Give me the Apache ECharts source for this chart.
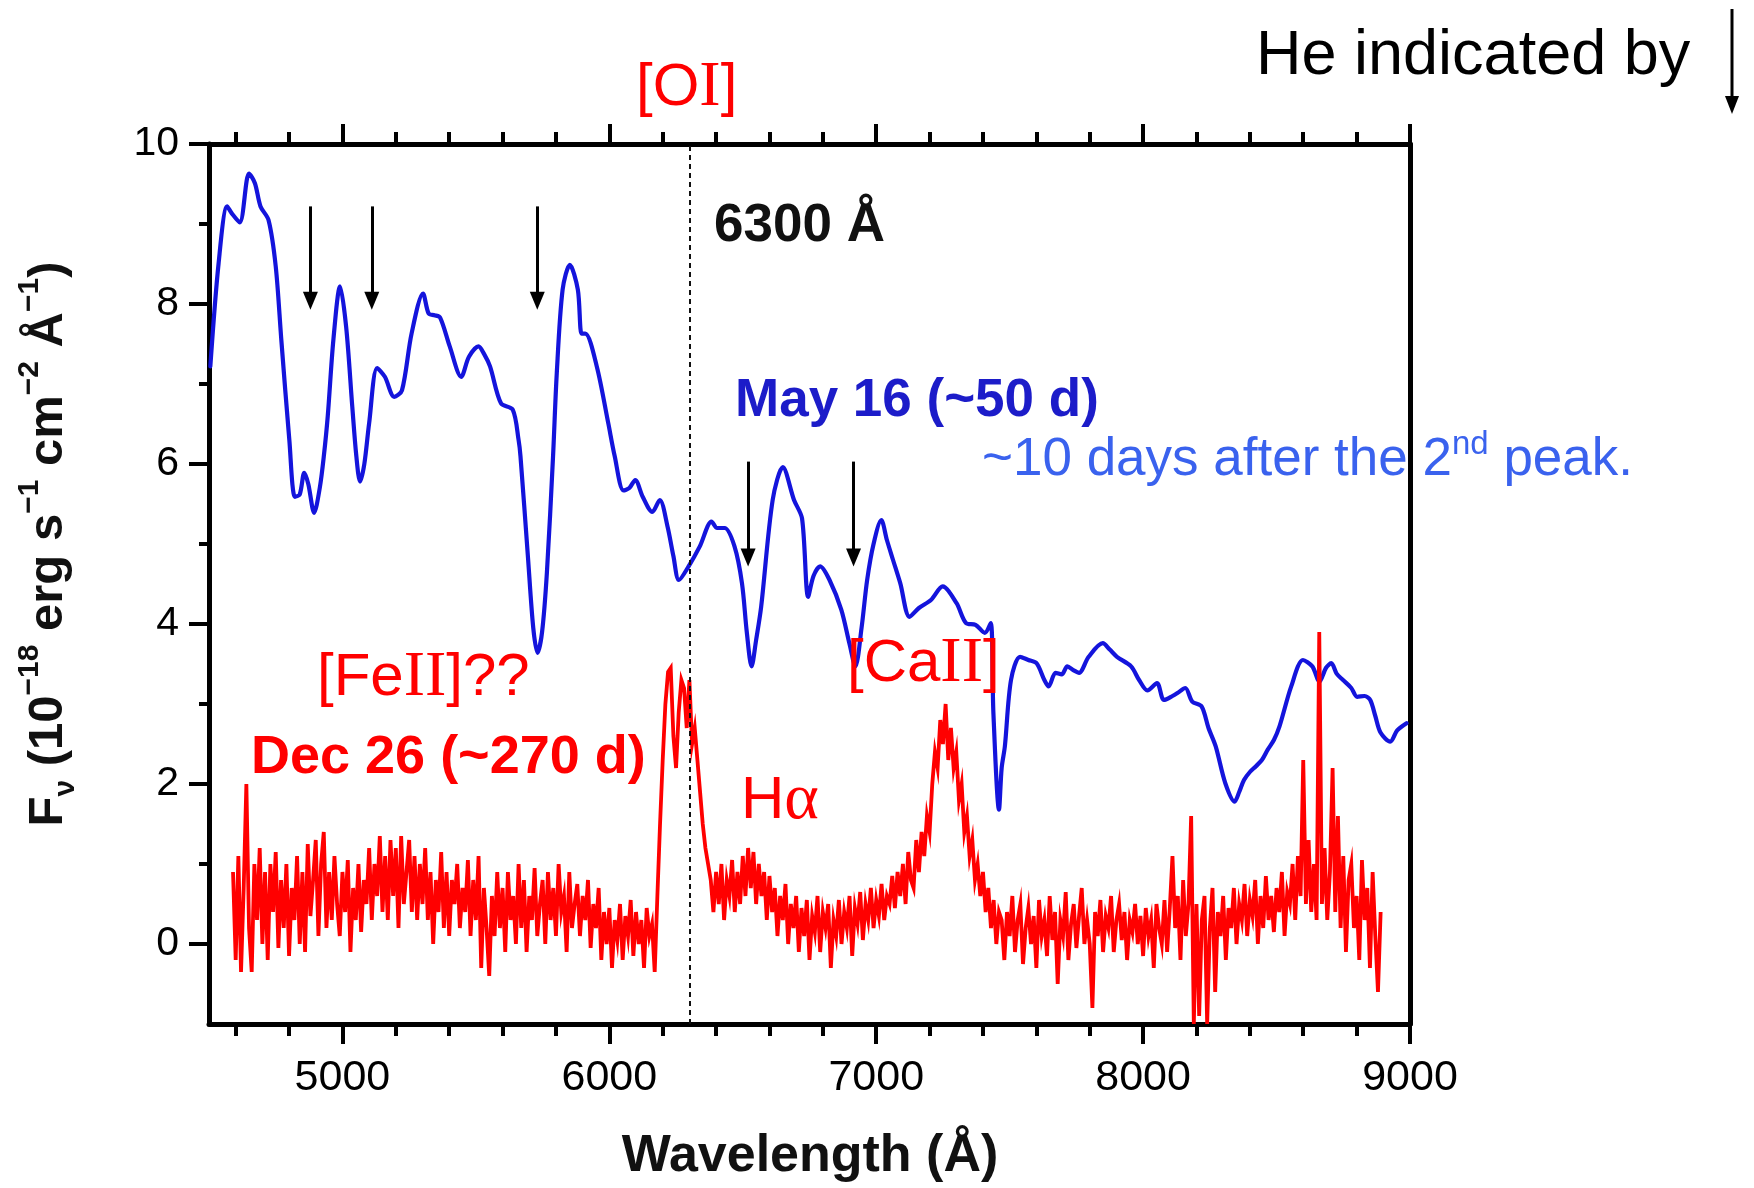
<!DOCTYPE html>
<html>
<head>
<meta charset="utf-8">
<script src="https://cdn.jsdelivr.net/npm/echarts@6/dist/echarts.min.js"></script>
<style>
  html, body { margin: 0; padding: 0; background: #ffffff; }
  #chart { width: 1754px; height: 1188px; }
</style>
</head>
<body>
<div id="chart"></div>
<script>
// May 16 (~50 d) spectrum: wavelength (Å) and flux (1e-18 erg s^-1 cm^-2 Å^-1)
const mayWave = [4505,4536,4568,4586,4615,4650,4672,4693,4723,4750,4771,4801,4822,4840,4857,4872,4894,4915,4930,4945,4966,4991,5014,5037,5052,5066,5082,5100,5130,5159,5194,5223,5259,5302,5323,5345,5366,5402,5445,5474,5510,5530,5553,5594,5638,5660,5667,5695,5715,5731,5748,5766,5789,5803,5825,5852,5882,5896,5910,5953,5996,6020,6053,6075,6097,6125,6161,6189,6218,6240,6261,6297,6339,6383,6404,6432,6469,6497,6515,6533,6550,6569,6612,6650,6692,6722,6745,6765,6790,6825,6869,6900,6922,6945,6966,6990,7019,7040,7063,7090,7125,7160,7205,7249,7301,7337,7372,7407,7429,7439,7460,7470,7482,7505,7539,7570,7601,7630,7646,7672,7695,7716,7740,7760,7796,7849,7875,7902,7955,7985,8016,8052,8078,8110,8130,8158,8184,8219,8245,8272,8308,8343,8360,8378,8400,8422,8445,8467,8490,8511,8555,8599,8634,8661,8685,8705,8725,8749,8780,8802,8830,8851,8870,8890,8926,8952,8987];
const mayFlux = [7.22,8.51,9.22,9.13,9.02,9.63,9.51,9.22,9.05,8.47,7.55,6.30,5.59,5.62,5.89,5.75,5.39,5.70,6.09,6.60,7.55,8.22,7.71,6.71,6.10,5.78,6.00,6.51,7.20,7.09,6.84,6.92,7.63,8.13,7.88,7.86,7.83,7.47,7.09,7.34,7.47,7.38,7.22,6.76,6.68,6.30,6.10,4.84,3.95,3.64,3.90,4.64,6.09,7.13,8.18,8.49,8.18,7.63,7.63,7.22,6.51,6.10,5.67,5.70,5.80,5.59,5.40,5.55,5.22,4.85,4.55,4.72,4.97,5.28,5.20,5.20,4.97,4.51,3.90,3.47,3.80,4.22,5.55,5.96,5.55,5.32,4.34,4.60,4.72,4.55,4.18,3.75,3.47,3.95,4.55,5.00,5.30,5.05,4.80,4.51,4.09,4.20,4.30,4.47,4.26,4.01,3.99,3.89,4.01,2.89,1.68,2.20,2.47,3.30,3.59,3.55,3.51,3.30,3.22,3.39,3.37,3.47,3.42,3.39,3.59,3.76,3.68,3.59,3.47,3.30,3.17,3.26,3.05,3.10,3.14,3.20,3.03,2.97,2.70,2.47,2.01,1.78,1.90,2.05,2.15,2.22,2.30,2.43,2.55,2.72,3.22,3.55,3.47,3.28,3.45,3.51,3.38,3.30,3.20,3.09,3.10,3.05,2.85,2.64,2.53,2.67,2.76];

// Dec 26 (~270 d) spectrum, sampled every 10 Å from 4590 Å
const decStart = 4590;
const decStep = 10;
const decFlux = [
  0.9, -0.2, 1.1, -0.35, 0.7, 2.0, 0.2, -0.35, 1.0, 0.3,
  1.2, 0.0, 0.9, -0.2, 1.0, 0.4, 1.15, -0.05, 0.8, 0.2,
  1.0, -0.15, 0.7, 0.3, 1.1, 0.0, 0.9, -0.1, 1.25, 0.35,
  0.8, 1.3, 0.1, 1.0, 1.4, 0.2, 0.9, 0.3, 1.1, 0.5,
  0.1, 0.9, 0.4, 1.05, -0.1, 0.7, 0.3, 1.0, 0.15, 0.8,
  0.5, 1.2, 0.3, 1.0, 0.6, 1.35, 0.4, 1.1, 0.3, 1.3,
  0.6, 1.2, 0.2, 1.35, 0.5, 0.9, 1.3, 0.4, 1.1, 0.3,
  1.0, 0.5, 1.2, 0.3, 0.9, 0.0, 0.8, 0.4, 1.15, 0.2,
  0.9, 0.1, 0.8, 0.5, 1.0, 0.2, 0.7, 0.4, 1.05, 0.1,
  0.8, 0.3, 1.1, -0.3, 0.7, 0.2, -0.4, 0.6, 0.1, 0.9,
  0.2, 0.7, -0.1, 0.9, 0.3, 0.6, 0.0, 1.0, 0.2, 0.8,
  -0.1, 0.6, 0.3, 0.95, 0.1, 0.5, 0.8, 0.0, 0.9, 0.3,
  0.7, 0.1, 1.0, 0.4, 0.6, -0.1, 0.9, 0.2, 0.5, 0.75,
  0.1, 0.6, 0.3, 0.8, -0.05, 0.5, 0.2, 0.7, -0.2, 0.4,
  0.0, 0.45, -0.3, 0.3, 0.05, 0.5, -0.2, 0.35, 0.1, 0.55,
  -0.15, 0.4, 0.0, 0.3, -0.3, 0.45, 0.1, 0.25, -0.35, 0.6,
  1.5, 2.3, 3.0, 3.4, 3.45, 2.6, 2.2, 2.9, 3.3, 3.2,
  2.7, 3.3, 2.5, 2.7, 2.3, 1.9, 1.5, 1.2, 1.0, 0.8,
  0.4, 0.9, 0.5, 1.0, 0.3, 0.8, 0.6, 1.05, 0.4, 0.9,
  0.5, 1.1, 0.6, 1.2, 0.7, 1.15, 0.5, 1.0, 0.6, 0.9,
  0.3, 0.85, 0.4, 0.7, 0.1, 0.6, 0.3, 0.75, 0.0, 0.5,
  0.2, 0.6, -0.1, 0.45, 0.1, 0.55, -0.2, 0.35, 0.15, 0.6,
  -0.1, 0.4, 0.2, 0.5, -0.3, 0.3, 0.1, 0.55, 0.0, 0.4,
  0.2, 0.6, -0.15, 0.45, 0.25, 0.65, 0.05, 0.5, 0.3, 0.7,
  0.2, 0.55, 0.35, 0.75, 0.3, 0.6, 0.5, 0.85, 0.45, 0.9,
  0.6, 1.0, 0.5, 1.15, 0.8, 0.7, 1.3, 0.9, 1.4, 1.1,
  1.6, 1.4, 2.0, 2.4, 2.2, 2.8, 2.5, 3.0, 2.3, 2.7,
  2.2, 2.4, 1.8, 2.0, 1.4, 1.6, 1.1, 1.3, 0.8, 1.0,
  0.6, 0.9, 0.4, 0.7, 0.2, 0.55, 0.0, 0.4, 0.3, -0.2,
  0.4, 0.1, 0.6, -0.1, 0.3, 0.5, -0.25, 0.2, 0.45, 0.0,
  0.35, -0.3, 0.55, 0.1, 0.3, -0.15, 0.6, 0.05, 0.4, -0.5,
  0.3, 0.1, 0.65, -0.2, 0.25, 0.5, -0.05, 0.35, 0.7, 0.0,
  0.3, 0.0, -0.8, 0.4, 0.1, 0.55, -0.1, 0.35, 0.2, 0.6,
  -0.1, 0.3, 0.5, 0.05, 0.4, -0.2, 0.3, 0.15, 0.5, 0.0,
  0.35, -0.15, 0.45, 0.1, 0.3, -0.3, 0.5, 0.2, 0.0, 0.55,
  -0.1, 0.45, 1.1, 0.2, 0.6, -0.2, 0.8, 0.1, 0.5, 1.6,
  -1.0, 0.5, -0.9, 0.3, 0.6, -1.0, 0.2, 0.7, -0.6, 0.4,
  0.1, 0.6, -0.2, 0.45, 0.2, 0.7, 0.0, 0.5, 0.3, 0.75,
  0.1, 0.55, 0.35, 0.8, 0.0, 0.6, 0.2, 0.85, 0.3, 0.6,
  0.15, 0.7, 0.4, 0.9, 0.1, 0.65, 0.5, 1.0, 0.3, 1.1,
  0.6, 2.3, 0.5, 1.3, 0.4, 1.0, 0.3, 3.9, 0.5, 1.2,
  0.3, 0.9, 2.2, 0.4, 1.6, 0.2, 1.1, -0.1, 0.8, 1.0,
  0.2, 0.6, -0.2, 1.05, 0.3, 0.7, -0.3, 0.9, 0.1, -0.6,
  0.4
];

// He absorption markers: wavelength, arrow start and arrow end (flux units)
const heWave = [4880, 5110, 5730, 6520, 6915];
const heFrom = [9.22, 9.22, 9.22, 6.03, 6.03];
const heTo   = [8.04, 8.04, 8.04, 4.83, 4.83];

// [OI] 6300 Å reference line
const oiLine = 6300;

// Axis ticks
const xMajor = [5000, 6000, 7000, 8000, 9000];
const xMinor = [4600, 4800, 5200, 5400, 5600, 5800, 6200, 6400, 6600, 6800, 7200, 7400, 7600, 7800, 8200, 8400, 8600, 8800];
const yMajor = [0, 2, 4, 6, 8, 10];
const yMinor = [1, 3, 5, 7, 9];

const mayData = mayWave.map((w, i) => [w, mayFlux[i]]);
const decData = decFlux.map((f, i) => [decStart + i * decStep, f]);

const sans = '"Liberation Sans", Arial, sans-serif';
const serif = '"Liberation Serif", "Times New Roman", serif';
const RED = '#ff0000';

const heMarks = heWave.map((w, i) => [
  { coord: [w, heFrom[i]], symbol: 'none' },
  { coord: [w, heTo[i]], symbol: 'triangle', symbolSize: [15, 18] }
]);

const chart = echarts.init(document.getElementById('chart'), null, { renderer: 'canvas' });

const tickStyle = { color: '#000', width: 4 };
const plain = v => String(v);
const baseX = { type: 'value', min: 4500, max: 9000, gridIndex: 0, splitLine: { show: false } };
const baseY = { type: 'value', min: -1, max: 10, gridIndex: 0, splitLine: { show: false } };

chart.setOption({
  animation: false,
  backgroundColor: '#ffffff',
  grid: { left: 209, right: 344, top: 144, bottom: 164, containLabel: false },
  xAxis: [
    Object.assign({}, baseX, {
      position: 'bottom',
      axisLine: { show: true, onZero: false, lineStyle: { color: '#000', width: 5 } },
      axisTick: { show: true, inside: false, length: 20, customValues: xMajor, lineStyle: tickStyle },
      axisLabel: { show: true, customValues: xMajor, formatter: plain, margin: 33, color: '#000', fontSize: 43, fontFamily: sans }
    }),
    Object.assign({}, baseX, {
      position: 'bottom',
      axisLine: { show: false, onZero: false },
      axisTick: { show: true, inside: false, length: 12, customValues: xMinor, lineStyle: tickStyle },
      axisLabel: { show: false }
    }),
    Object.assign({}, baseX, {
      position: 'top',
      axisLine: { show: true, onZero: false, lineStyle: { color: '#000', width: 5 } },
      axisTick: { show: true, inside: false, length: 20, customValues: xMajor, lineStyle: tickStyle },
      axisLabel: { show: false }
    }),
    Object.assign({}, baseX, {
      position: 'top',
      axisLine: { show: false, onZero: false },
      axisTick: { show: true, inside: false, length: 12, customValues: xMinor, lineStyle: tickStyle },
      axisLabel: { show: false }
    })
  ],
  yAxis: [
    Object.assign({}, baseY, {
      position: 'left',
      axisLine: { show: true, onZero: false, lineStyle: { color: '#000', width: 5 } },
      axisTick: { show: true, inside: false, length: 20, customValues: yMajor, lineStyle: tickStyle },
      axisLabel: { show: true, customValues: yMajor, formatter: plain, margin: 30, color: '#000', fontSize: 41, fontFamily: sans }
    }),
    Object.assign({}, baseY, {
      position: 'left',
      axisLine: { show: false, onZero: false },
      axisTick: { show: true, inside: false, length: 10, customValues: yMinor, lineStyle: tickStyle },
      axisLabel: { show: false }
    }),
    Object.assign({}, baseY, {
      position: 'right',
      axisLine: { show: true, onZero: false, lineStyle: { color: '#000', width: 5 } },
      axisTick: { show: false },
      axisLabel: { show: false }
    })
  ],
  series: [
    {
      name: 'May 16 (~50 d)',
      type: 'line',
      xAxisIndex: 0,
      yAxisIndex: 0,
      data: mayData,
      showSymbol: false,
      symbol: 'none',
      smooth: 0.3,
      lineStyle: { color: '#1414dc', width: 4.2, join: 'round', cap: 'round' },
      silent: true,
      z: 2,
      markLine: {
        silent: true,
        symbol: ['none', 'none'],
        label: { show: false },
        emphasis: { disabled: true },
        data: [
          { xAxis: oiLine, lineStyle: { color: '#111', width: 2, type: [5, 4] } }
        ].concat(heMarks),
        lineStyle: { color: '#000', width: 3, type: 'solid' }
      }
    },
    {
      name: 'Dec 26 (~270 d)',
      type: 'line',
      xAxisIndex: 0,
      yAxisIndex: 0,
      data: decData,
      showSymbol: false,
      symbol: 'none',
      smooth: false,
      lineStyle: { color: RED, width: 3.8, join: 'miter' },
      silent: true,
      z: 3
    }
  ],
  graphic: [
    {
      type: 'text', x: 1256, y: 57, z: 10,
      style: { text: 'He indicated by', fill: '#000', fontSize: 63, fontFamily: sans, align: 'left', verticalAlign: 'middle' }
    },
    {
      type: 'line', z: 10,
      shape: { x1: 1732, y1: 9, x2: 1732, y2: 100 },
      style: { stroke: '#000', lineWidth: 3 }
    },
    {
      type: 'polygon', z: 10,
      shape: { points: [[1725, 96], [1739, 96], [1732, 114]] },
      style: { fill: '#000' }
    },
    {
      type: 'text', x: 636, y: 88, z: 10,
      style: {
        text: '[O{s|I}]', fill: RED, fontSize: 60, fontFamily: sans, align: 'left', verticalAlign: 'middle',
        rich: { s: { fill: RED, fontSize: 64, fontFamily: serif } }
      }
    },
    {
      type: 'text', x: 714, y: 226, z: 10,
      style: { text: '6300 Å', fill: '#111', fontSize: 53, fontWeight: 'bold', fontFamily: sans, align: 'left', verticalAlign: 'middle' }
    },
    {
      type: 'text', x: 735, y: 401, z: 10,
      style: { text: 'May 16 (~50 d)', fill: '#1c1cc9', fontSize: 53, fontWeight: 'bold', fontFamily: sans, align: 'left', verticalAlign: 'middle' }
    },
    {
      type: 'text', x: 982, y: 460, z: 10,
      style: {
        text: '~10 days after the 2{sup|nd} peak.', fill: '#3a62ee', fontSize: 53, fontFamily: sans,
        align: 'left', verticalAlign: 'middle', lineHeight: 64,
        rich: { sup: { fill: '#3a62ee', fontSize: 33, fontFamily: sans, verticalAlign: 'top' } }
      }
    },
    {
      type: 'text', x: 847, y: 664, z: 10,
      style: {
        text: '[Ca{s|II}]', fill: RED, fontSize: 60, fontFamily: sans, align: 'left', verticalAlign: 'middle',
        rich: { s: { fill: RED, fontSize: 64, fontFamily: serif } }
      }
    },
    {
      type: 'text', x: 317, y: 678, z: 10,
      style: {
        text: '[Fe{s|II}]??', fill: RED, fontSize: 60, fontFamily: sans, align: 'left', verticalAlign: 'middle',
        rich: { s: { fill: RED, fontSize: 64, fontFamily: serif } }
      }
    },
    {
      type: 'text', x: 251, y: 758, z: 10,
      style: { text: 'Dec 26 (~270 d)', fill: RED, fontSize: 54, fontWeight: 'bold', fontFamily: sans, align: 'left', verticalAlign: 'middle' }
    },
    {
      type: 'text', x: 741, y: 801, z: 10,
      style: {
        text: 'H{s|α}', fill: RED, fontSize: 60, fontFamily: sans, align: 'left', verticalAlign: 'middle',
        rich: { s: { fill: RED, fontSize: 66, fontFamily: serif } }
      }
    },
    {
      type: 'text', x: 810, y: 1157, z: 10,
      style: { text: 'Wavelength (Å)', fill: '#111', fontSize: 52, fontWeight: 'bold', fontFamily: sans, align: 'center', verticalAlign: 'middle' }
    },
    {
      type: 'text', x: 48, y: 544, z: 10, rotation: Math.PI / 2,
      style: {
        text: 'F{sub|ν} (10{sup|−18} erg s{sup|−1} cm{sup|−2} Å{sup|−1})',
        fill: '#111', fontSize: 49, fontWeight: 'bold', fontFamily: sans,
        align: 'center', verticalAlign: 'middle', lineHeight: 66,
        rich: {
          sup: { fill: '#111', fontSize: 30, fontWeight: 'bold', fontFamily: sans, verticalAlign: 'top' },
          sub: { fill: '#111', fontSize: 30, fontWeight: 'bold', fontFamily: sans, verticalAlign: 'bottom' }
        }
      }
    }
  ]
});
</script>
</body>
</html>
